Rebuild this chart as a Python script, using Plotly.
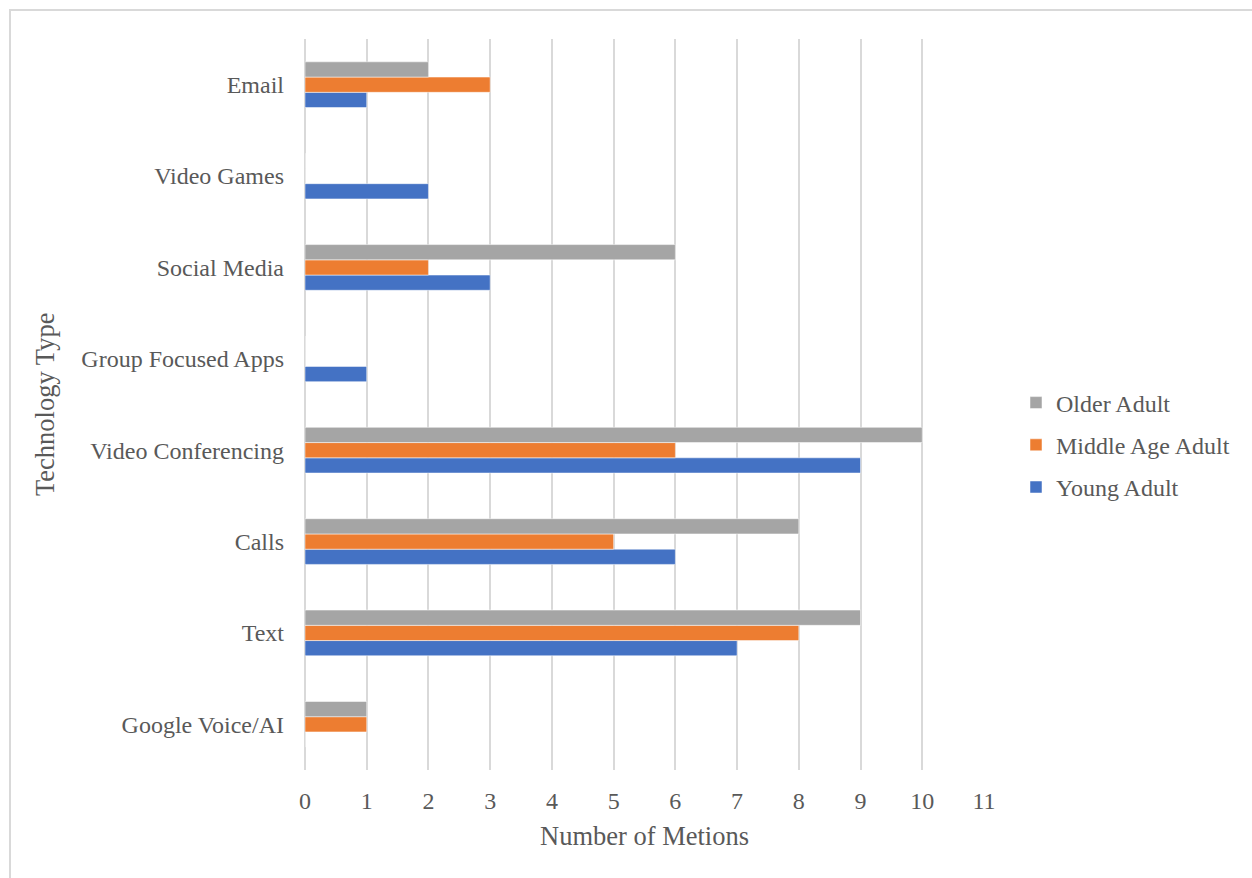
import plotly.graph_objects as go

categories = ["Google Voice/AI", "Text", "Calls", "Video Conferencing",
              "Group Focused Apps", "Social Media", "Video Games", "Email"]
young_adult = [0, 7, 6, 9, 1, 3, 2, 1]
middle_age_adult = [1, 8, 5, 6, 0, 2, 0, 3]
older_adult = [1, 9, 8, 10, 0, 6, 0, 2]
x_ticks = list(range(0, 12))

FONT = "Liberation Serif, Times New Roman, serif"
TEXT = "#595959"
GRID = "#d9d9d9"

fig = go.Figure()
series = [
    ("Young Adult", young_adult, "#4472c4", 3),
    ("Middle Age Adult", middle_age_adult, "#ed7d31", 2),
    ("Older Adult", older_adult, "#a5a5a5", 1),
]
for name, vals, color, rank in series:
    fig.add_trace(go.Bar(
        y=categories, x=vals, name=name, orientation="h",
        marker=dict(color=color, line=dict(color="white", width=0.5)),
        legendgroup=name, legendrank=rank,
    ))

W, H = 1252, 878
L, R, T, B = 305, 268, 39, 108
pw, ph = W - L - R, H - T - B

fig.update_layout(
    width=W, height=H,
    margin=dict(l=L, r=R, t=T, b=B, autoexpand=False),
    paper_bgcolor="white", plot_bgcolor="white",
    font=dict(family=FONT, color=TEXT, size=24),
    barmode="group", bargap=0.5, bargroupgap=0,
    showlegend=True,
    legend=dict(
        traceorder="grouped", tracegroupgap=8,
        x=(1016 - L) / pw, xanchor="left",
        y=(H - B - 445) / ph, yanchor="middle",
        font=dict(family=FONT, size=24, color=TEXT),
        itemwidth=30, bgcolor="rgba(0,0,0,0)",
    ),
    xaxis=dict(
        range=[0, 11], tickvals=x_ticks, showgrid=True, gridcolor=GRID,
        gridwidth=1.5, zeroline=True, zerolinecolor=GRID, zerolinewidth=1.5,
        showline=False, ticks="", ticklabelstandoff=14,
        tickfont=dict(family=FONT, size=24, color=TEXT), fixedrange=True,
    ),
    yaxis=dict(
        showgrid=False, zeroline=False, showline=False, ticks="",
        ticklabelstandoff=20, categoryorder="array", categoryarray=categories,
        tickfont=dict(family=FONT, size=24, color=TEXT), fixedrange=True,
    ),
    shapes=[dict(
        type="rect", xref="paper", yref="paper",
        x0=(10 - L) / pw, x1=(W + 20 - L) / pw,
        y0=-(B + 20) / ph, y1=1 + (T - 10) / ph,
        line=dict(color=GRID, width=2), fillcolor="rgba(0,0,0,0)", layer="below",
    )],
    annotations=[
        dict(text="Number of Metions", xref="paper", yref="paper",
             x=(644 - L) / pw, y=-(836 - (H - B)) / ph, showarrow=False,
             xanchor="center", yanchor="middle",
             font=dict(family=FONT, size=26.5, color=TEXT)),
        dict(text="Technology Type", xref="paper", yref="paper",
             x=(45 - L) / pw, y=(H - B - 405) / ph, showarrow=False,
             xanchor="center", yanchor="middle", textangle=-90,
             font=dict(family=FONT, size=26.5, color=TEXT)),
    ],
)

fig.write_html("out.html")
